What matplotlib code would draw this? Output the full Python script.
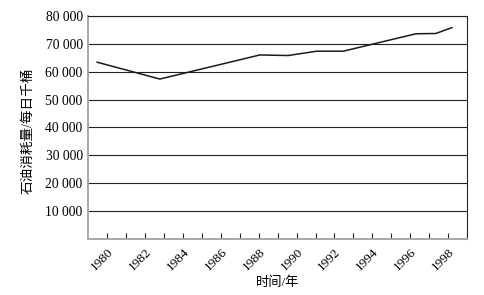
import matplotlib
matplotlib.use('Agg')
import matplotlib.pyplot as plt
from matplotlib.ticker import FuncFormatter, MultipleLocator

plt.rcParams['font.family'] = ['Liberation Serif', 'Noto Sans CJK SC']

# 数据：年份(小数年)和石油消耗量(每日千桶)
years = [1979.47, 1982.78, 1988.06, 1989.56, 1991.06, 1992.46, 1996.30, 1997.35, 1998.2]
oil = [63400, 57360, 66000, 65800, 67350, 67350, 73600, 73700, 75800]

x_ticks = list(range(1980, 1999))
x_labels = [str(y) if y % 2 == 0 else '' for y in x_ticks]

fig = plt.figure(figsize=(4.85, 2.95), dpi=100)
ax = fig.add_axes([0.182, 0.19, 0.781, 0.756])

ax.plot(years, oil, color='#1a1a1a', lw=1.1)

ax.set_xlim(1979, 1999)
ax.set_ylim(0, 80000)
ax.yaxis.set_major_locator(MultipleLocator(10000))
ax.yaxis.set_major_formatter(FuncFormatter(
    lambda v, p: '' if v == 0 else '{:,}'.format(int(v)).replace(',', ' ')))
ax.grid(axis='y', color='#222222', lw=0.8)
ax.set_axisbelow(True)

ax.set_xticks(x_ticks)
ax.set_xticklabels(x_labels, rotation=45, ha='right', va='top',
                   rotation_mode='anchor', fontsize=9.5)
ax.tick_params(axis='x', direction='in', length=4, width=0.8, color='#222222', pad=5)
ax.tick_params(axis='y', length=0, pad=4, labelsize=9.8)

for s in ['left', 'bottom']:
    ax.spines[s].set_color('#a8a8a8')
    ax.spines[s].set_linewidth(1.4)
for s in ['top', 'right']:
    ax.spines[s].set_color('#222222')
    ax.spines[s].set_linewidth(0.8)

ax.set_ylabel('石油消耗量/每日千桶', fontsize=9.8, va='center')
ax.yaxis.set_label_coords(-0.158, 0.484)
ax.set_xlabel('时间/年', fontsize=9.5, va='center')
ax.xaxis.set_label_coords(0.5, -0.197)

fig.savefig('out.png', dpi=100)
